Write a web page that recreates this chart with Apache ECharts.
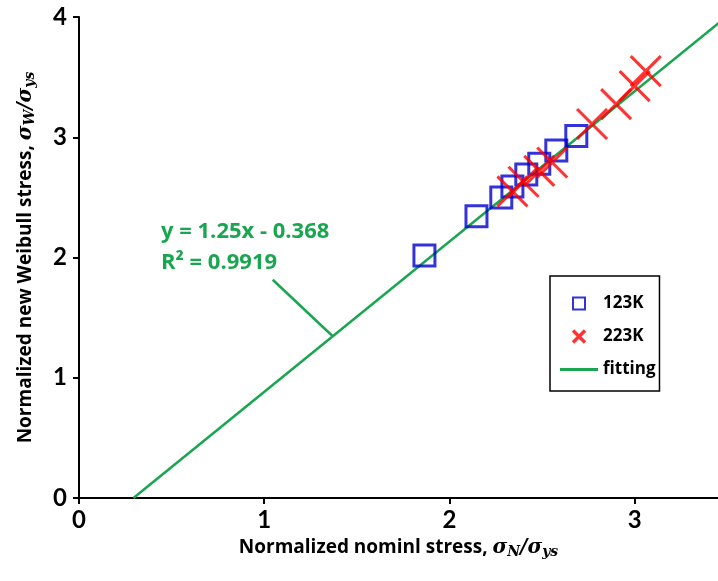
<!DOCTYPE html>
<html lang="en">
<head>
    <meta charset="UTF-8">
    <title>Normalized Weibull stress vs nominal stress</title>
    <style>
        * { margin: 0; padding: 0; }
        html, body { width: 100%; height: 100%; background: #fff; }
        #main { width: 718px; height: 581px; }
    </style>
    <script src="https://cdn.jsdelivr.net/npm/echarts@6/dist/echarts.min.js"></script>
</head>
<body>
    <div id="main"></div>
<script>
    // 123K points (nominal, weibull)
    var x123 = [1.865, 2.146, 2.28, 2.34, 2.415, 2.485, 2.577, 2.685];
    var y123 = [2.017, 2.342, 2.50, 2.59, 2.69, 2.78, 2.89, 3.01];
    // 223K points
    var x223 = [2.34, 2.40, 2.485, 2.555, 2.77, 2.90, 3.0, 3.06];
    var y223 = [2.55, 2.63, 2.72, 2.79, 3.11, 3.275, 3.425, 3.55];
    // fitting line end points
    var fitX = [0.294, 3.494];
    var fitY = [0, 4.0];
    // leader line from the equation to the fit line
    var leadX = [1.046, 1.37];
    var leadY = [1.815, 1.345];
    var xTicks = [0, 1, 2, 3];
    var yTicks = [0, 1, 2, 3, 4];

    var green = '#1aa650';
    var blue = '#0000d0';
    var red = '#ff0000';
    var font = 'Lato';
    var textFont = '"Open Sans"';
    var mathFont = '"DejaVu Serif"';

    function zip(a, b) {
        return a.map(function (v, i) { return [v, b[i]]; });
    }

    // rich styles for "σ_a/σ_ys" style axis names
    function nameRich(size) {
        return {
            b: { fontSize: size, fontWeight: 'bold', fontFamily: textFont, color: '#000' },
            i: { fontSize: size + 1, fontStyle: 'italic', fontWeight: 'bold', fontFamily: mathFont, color: '#000' },
            s: { fontSize: 14, fontStyle: 'italic', fontWeight: 'bold', fontFamily: mathFont, color: '#000',
                 verticalAlign: 'bottom', padding: [9, 0, 0, 0] }
        };
    }

    function initEchart() {
        var axisCommon = {
            type: 'value',
            interval: 1,
            splitLine: { show: false },
            axisLine: { show: true, onZero: false, lineStyle: { color: '#000', width: 2 } },
            axisTick: { show: true, length: 6, lineStyle: { color: '#000', width: 2 } },
            axisLabel: {
                color: '#000',
                fontSize: 24,
                fontWeight: 'bold',
                fontFamily: font
            }
        };

        var option = {
            animation: false,
            grid: { left: 79, top: 17, right: 0, bottom: 83 },
            legend: {
                orient: 'vertical',
                left: 550,
                top: 276,
                padding: [19, 4, 13, 10],
                itemWidth: 38,
                itemHeight: 12,
                itemGap: 16,
                symbolKeepAspect: true,
                borderColor: '#000',
                borderWidth: 1.5,
                textStyle: { fontSize: 17, fontWeight: 'bold', color: '#000', fontFamily: textFont },
                data: [
                    { name: '123K', icon: 'path://M0,0L10,0L10,10L0,10Z' },
                    { name: '223K', icon: 'path://M1,1L9,9M9,1L1,9', itemStyle: { borderWidth: 3.5 } },
                    { name: 'fitting', icon: 'path://M0,0L40,0L40,3L0,3Z', itemStyle: { color: green, borderWidth: 0 } }
                ]
            },
            xAxis: Object.assign({}, axisCommon, {
                min: xTicks[0],
                max: 3.45,
                axisLabel: Object.assign({}, axisCommon.axisLabel, { margin: 10, showMaxLabel: false }),
                name: '{b|Normalized nominl stress, }{i|σ}{s|N}{i|/σ}{s|ys}',
                nameLocation: 'middle',
                nameGap: 38,
                nameTextStyle: { rich: nameRich(19) }
            }),
            yAxis: Object.assign({}, axisCommon, {
                min: yTicks[0],
                max: yTicks[yTicks.length - 1],
                axisLabel: Object.assign({}, axisCommon.axisLabel, { margin: 12 }),
                name: '{b|Normalized new Weibull stress, }{i|σ}{s|W}{i|/σ}{s|ys}',
                nameLocation: 'middle',
                nameGap: 42,
                nameRotate: 90,
                nameTextStyle: { rich: nameRich(19) }
            }),
            series: [
                {
                    name: 'fitting',
                    type: 'line',
                    symbol: 'none',
                    lineStyle: { color: green, width: 2.5 },
                    itemStyle: { color: green },
                    data: zip(fitX, fitY),
                    z: 1
                },
                {
                    name: 'leader',
                    type: 'line',
                    symbol: 'none',
                    silent: true,
                    lineStyle: { color: green, width: 2.5 },
                    data: zip(leadX, leadY),
                    z: 1
                },
                {
                    name: '123K',
                    type: 'scatter',
                    symbol: 'rect',
                    symbolSize: 21,
                    itemStyle: { color: 'rgba(255,255,255,0)', borderColor: blue, borderWidth: 3 },
                    data: zip(x123, y123),
                    z: 2
                },
                {
                    name: '223K',
                    type: 'scatter',
                    symbol: 'path://M0,0L10,10M10,0L0,10',
                    symbolSize: 30,
                    itemStyle: { color: red, borderColor: red, borderWidth: 3 },
                    data: zip(x223, y223),
                    z: 3
                }
            ],
            graphic: [
                {
                    type: 'text',
                    left: 161,
                    top: 216,
                    style: {
                        text: 'y = 1.25x - 0.368\nR² = 0.9919',
                        fill: green,
                        font: 'bold 22px ' + textFont,
                        lineHeight: 31
                    }
                }
            ]
        };
        var myChart = echarts.init(document.getElementById('main'));
        myChart.setOption(option);
    }
    initEchart();
</script>
</body>
</html>
